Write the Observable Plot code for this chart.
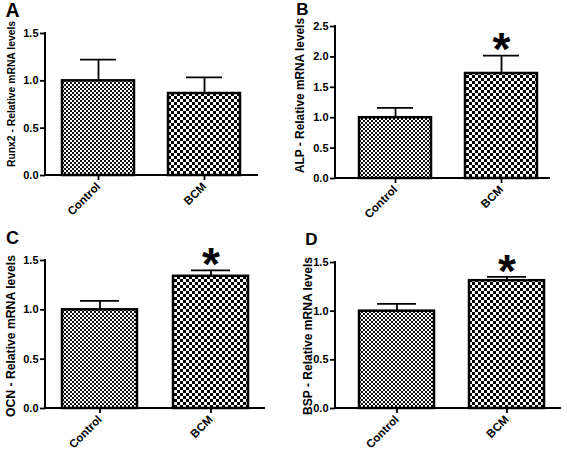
<!DOCTYPE html>
<html>
<head>
<meta charset="utf-8">
<script src="https://cdn.jsdelivr.net/npm/d3@7"></script>
<script src="https://cdn.jsdelivr.net/npm/@observablehq/plot@0.6"></script>
<style>
  html, body { margin: 0; padding: 0; background: #fff; }
  #root { position: relative; width: 567px; height: 451px; overflow: hidden; background: #fff; }
  #root > svg.panel { position: absolute; }
</style>
</head>
<body>
<svg width="0" height="0" style="position:absolute">
  <defs>
    <pattern id="patControl" patternUnits="userSpaceOnUse" width="4" height="4">
      <rect width="4" height="4" fill="#fff"/>
      <rect width="2" height="2" fill="#111"/>
      <rect x="2" y="2" width="2" height="2" fill="#111"/>
    </pattern>
    <pattern id="patBCM" patternUnits="userSpaceOnUse" width="6" height="6">
      <rect width="6" height="6" fill="#fff"/>
      <rect width="3" height="3" fill="#000"/>
      <rect x="3" y="3" width="3" height="3" fill="#000"/>
    </pattern>
  </defs>
</svg>
<div id="root"></div>
<script>
// ---- data ----
const categories = ["Control", "BCM"];
const genes = ["Runx2", "ALP", "OCN", "BSP"];
const panelLetters = ["A", "B", "C", "D"];
const runx2Mean = [1.0, 0.866];
const runx2Sem = [0.225, 0.17];
const alpMean = [1.0, 1.727];
const alpSem = [0.16, 0.295];
const ocnMean = [1.0, 1.34];
const ocnSem = [0.09, 0.06];
const bspMean = [1.0, 1.313];
const bspSem = [0.075, 0.04];
const yMax = [1.5, 2.5, 1.5, 1.5];
const yTicks = [
  [0, 0.5, 1.0, 1.5],
  [0, 0.5, 1.0, 1.5, 2.0, 2.5],
  [0, 0.5, 1.0, 1.5],
  [0, 0.5, 1.0, 1.5]
];
const significant = [[false, false], [false, true], [false, true], [false, true]];
const labelSuffix = " - Relative mRNA levels";
const starSymbol = "*";

// ---- layout / style ----
const patterns = { Control: "url(#patControl)", BCM: "url(#patBCM)" };
const layout = [
  { left: 0, top: 0, width: 283, height: 225, mL: 45, mR: 25, mT: 33, mB: 50, xRange: [44.75, 257.75],
    labX: 15, labY: 94, labLen: 146, labSize: 11, letX: 12.5, letY: 17, letSize: 19.5 },
  { left: 283, top: 0, width: 284, height: 225, mL: 52, mR: 17, mT: 26, mB: 47, xRange: [58.4, 272.4],
    labX: 21, labY: 95.5, labLen: 155, labSize: 12, letX: 19.5, letY: 15, letSize: 17 },
  { left: 0, top: 225, width: 283, height: 226, mL: 45, mR: 18, mT: 35, mB: 43, xRange: [44, 266],
    labX: 15, labY: 111, labLen: 162, labSize: 12, letX: 12.5, letY: 19, letSize: 18 },
  { left: 283, top: 225, width: 284, height: 226, mL: 52, mR: 6, mT: 37, mB: 43, xRange: [58, 278],
    labX: 29, labY: 111, labLen: 158, labSize: 12, letX: 28.5, letY: 20, letSize: 17 }
];
const FONT = "'Liberation Sans', Arial, Helvetica, sans-serif";
const NS = "http://www.w3.org/2000/svg";

function el(tag, attrs, text) {
  const e = document.createElementNS(NS, tag);
  for (const k in attrs) e.setAttribute(k, attrs[k]);
  if (text != null) e.textContent = text;
  return e;
}

function panel(i, means, sems) {
  const L = layout[i];
  const data = categories.map((c, j) => ({
    cat: c, mean: means[j], sem: sems[j], top: means[j] + sems[j], sig: significant[i][j]
  }));

  const axisLines = (index, scales, values, dims) => {
    const g = el("g", { stroke: "#000", "stroke-width": 2, fill: "none" });
    const x0 = dims.marginLeft, x1 = dims.width - dims.marginRight;
    const y0 = dims.height - dims.marginBottom, y1 = dims.marginTop;
    g.appendChild(el("line", { x1: x0, x2: x0, y1: y1 - 1, y2: y0 + 1 }));
    g.appendChild(el("line", { x1: x0 - 1, x2: x1, y1: y0, y2: y0 }));
    return g;
  };
  const labels = () => {
    const g = el("g", { fill: "#000", "font-family": FONT, "font-weight": "bold" });
    g.appendChild(el("text", {
      transform: `translate(${L.labX},${L.labY}) rotate(-90)`,
      "text-anchor": "middle", "font-size": L.labSize,
      textLength: L.labLen, lengthAdjust: "spacingAndGlyphs"
    }, genes[i] + labelSuffix));
    g.appendChild(el("text", { x: L.letX, y: L.letY, "font-size": L.letSize }, panelLetters[i]));
    return g;
  };

  const svg = Plot.plot({
    width: L.width, height: L.height,
    marginLeft: L.mL, marginRight: L.mR, marginTop: L.mT, marginBottom: L.mB,
    style: { fontFamily: FONT, fontWeight: "bold", fontSize: "11px", color: "#000", background: "transparent" },
    x: { type: "band", domain: categories, range: L.xRange, paddingInner: 0.32, paddingOuter: 0.16 },
    y: { domain: [0, yMax[i]] },
    marks: [
      ...categories.map(c => Plot.barY(data.filter(d => d.cat === c), {
        x: "cat", y: "mean", fill: patterns[c], stroke: "#000", strokeWidth: 2.5
      })),
      Plot.ruleX(data, { x: "cat", y1: "mean", y2: "top", stroke: "#000", strokeWidth: 1.8 }),
      Plot.tickY(data, { x: "cat", y: "top", stroke: "#000", strokeWidth: 1.8, insetLeft: 18, insetRight: 18 }),
      Plot.text(data.filter(d => d.sig), {
        x: "cat", y: "top", text: () => starSymbol, fontSize: 46, fontWeight: "bold", dy: -5, fill: "#000"
      }),
      Plot.axisY({ ticks: yTicks[i], tickFormat: d3.format(".1f"), tickSize: 5, tickPadding: 2,
        strokeWidth: 1.8, label: null, fontSize: 11, fontWeight: "bold" }),
      Plot.axisX({ tickRotate: -45, tickSize: 5, tickPadding: 4, strokeWidth: 1.8,
        label: null, fontSize: 11.5, fontWeight: "bold" }),
      axisLines,
      labels
    ]
  });
  svg.classList.add("panel");
  svg.style.left = L.left + "px";
  svg.style.top = L.top + "px";
  return svg;
}

const root = document.getElementById("root");
root.appendChild(panel(0, runx2Mean, runx2Sem));
root.appendChild(panel(1, alpMean, alpSem));
root.appendChild(panel(2, ocnMean, ocnSem));
root.appendChild(panel(3, bspMean, bspSem));
</script>
</body>
</html>
